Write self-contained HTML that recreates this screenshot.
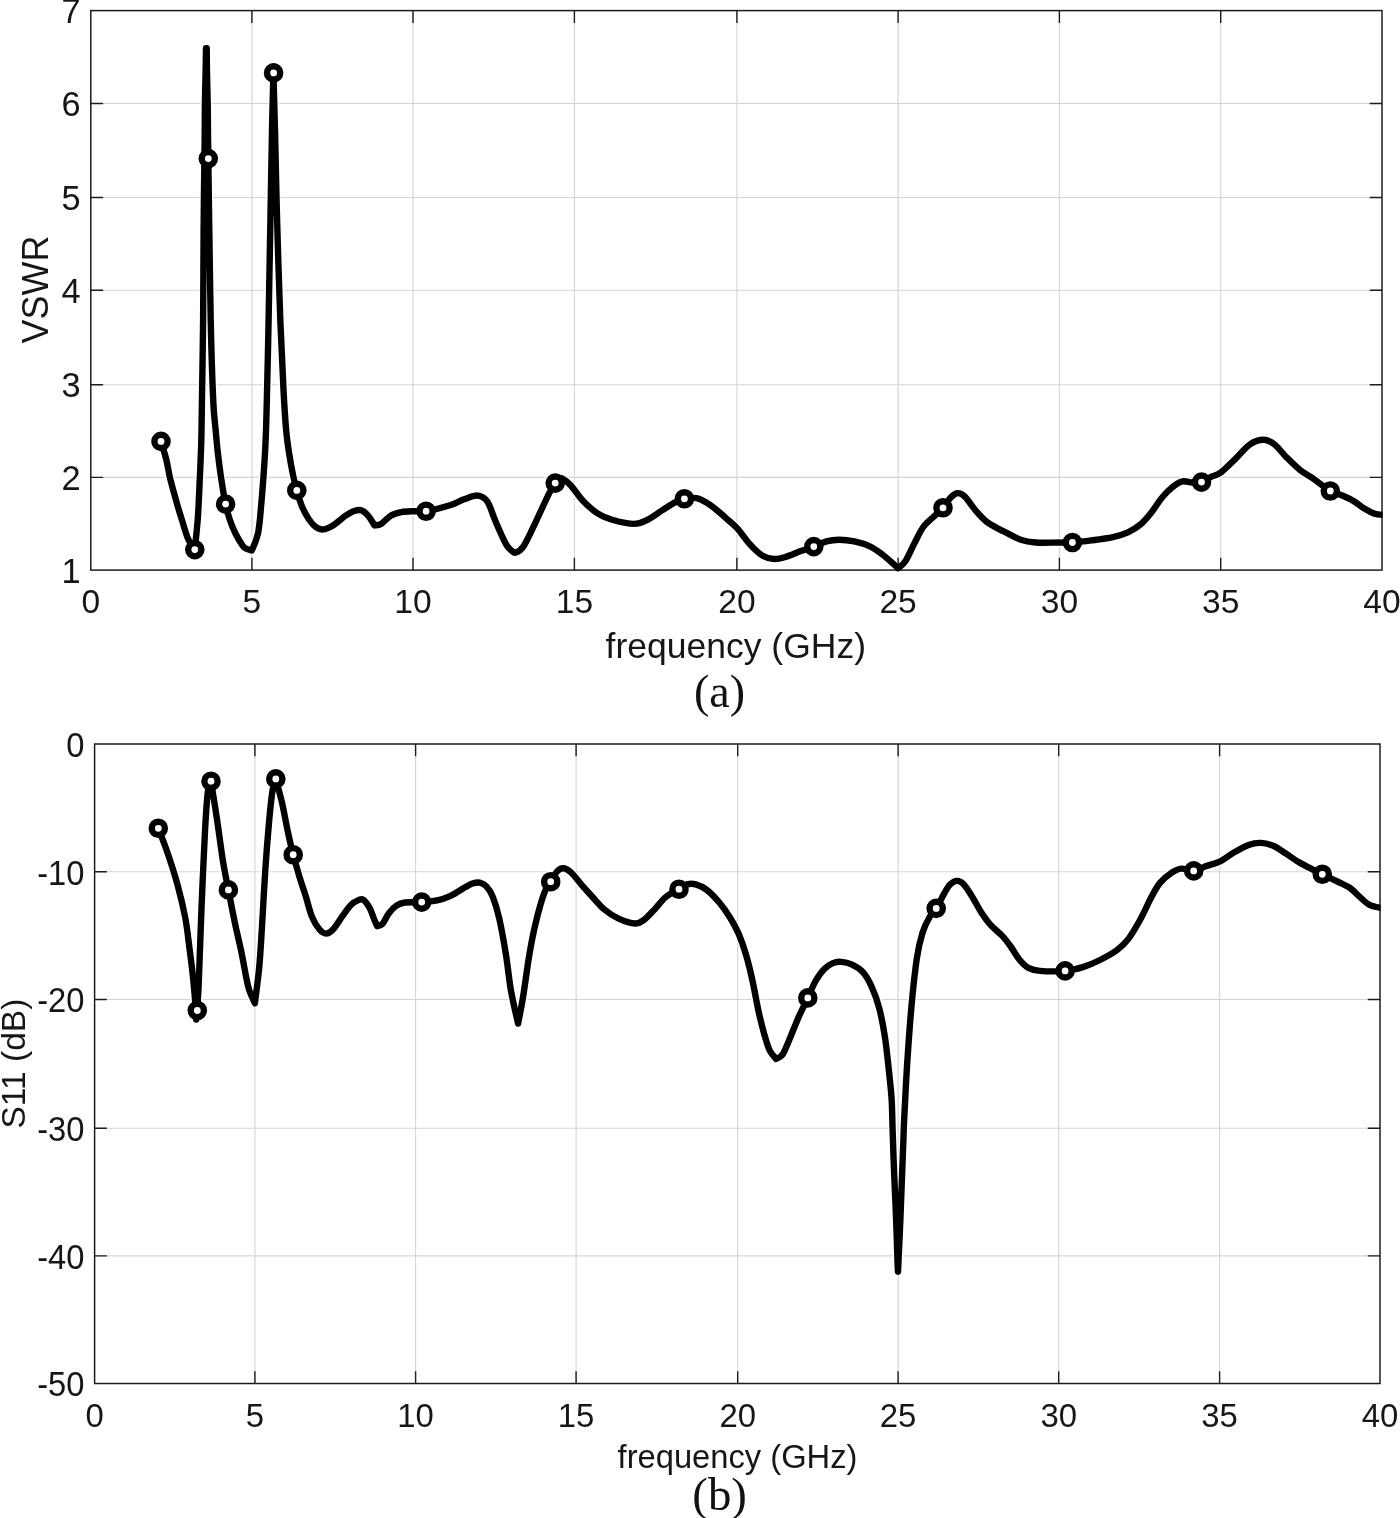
<!DOCTYPE html>
<html><head><meta charset="utf-8"><title>VSWR and S11</title>
<style>
html,body{margin:0;padding:0;background:#fff}
body{width:1400px;height:1518px;overflow:hidden}
svg{display:block}
text{font-family:"Liberation Sans",sans-serif;fill:#161616}
.cap{font-family:"Liberation Serif",serif;fill:#111}
</style></head><body>
<svg width="1400" height="1518" viewBox="0 0 1400 1518">
<rect width="1400" height="1518" fill="#fff"/>
<clipPath id="ca"><rect x="90.8" y="-1.4" width="1291.8" height="583.5"/></clipPath>
<path d="M251.9 10.6V570.1M413.0 10.6V570.1M574.4 10.6V570.1M736.9 10.6V570.1M898.1 10.6V570.1M1059.4 10.6V570.1M1220.7 10.6V570.1M90.8 477.4H1382.0M90.8 384.7H1382.0M90.8 290.2H1382.0M90.8 197.5H1382.0M90.8 103.5H1382.0" stroke="#262626" stroke-opacity="0.2" stroke-width="1.1" fill="none"/>
<defs><path id="pca" d="M161.0 441.4 C161.9 444.4 164.8 453.6 166.3 459.6 C167.8 465.6 168.3 470.8 169.9 477.4 C171.5 484.0 173.8 492.2 175.7 499.1 C177.6 506.0 179.5 512.3 181.6 518.9 C183.7 525.5 185.8 533.6 188.0 538.7 C190.2 543.8 193.7 547.8 194.8 549.6 C195.3 544.4 197.0 529.6 197.8 518.5 C198.6 507.4 199.1 494.9 199.6 483.0 C200.1 471.1 200.7 459.6 201.1 447.4 C201.5 435.2 201.5 431.2 201.8 410.0 C202.1 388.8 202.8 350.0 203.1 320.0 C203.4 290.0 203.3 260.7 203.6 230.0 C203.8 199.3 204.5 157.2 204.7 136.0 C204.9 114.8 204.8 113.7 204.9 103.0 C205.1 92.3 205.4 81.1 205.6 72.0 C205.8 62.9 205.9 52.2 206.0 48.2 L206.7 48.2 C206.8 52.2 206.8 62.9 207.0 72.0 C207.2 81.1 207.5 92.3 207.7 103.0 C207.9 113.7 207.9 126.7 208.0 136.0 C208.1 145.3 208.1 142.9 208.3 158.6 C208.5 174.3 208.9 203.1 209.3 230.0 C209.8 256.9 210.1 291.7 210.7 320.0 C211.3 348.3 212.4 381.7 213.2 400.0 C214.0 418.3 214.8 420.7 215.6 429.6 C216.4 438.5 216.9 444.8 217.9 453.3 C218.9 461.8 220.2 472.1 221.5 480.6 C222.8 489.1 224.2 497.6 225.6 504.1 C227.0 510.6 228.1 514.7 229.8 519.7 C231.5 524.7 233.5 529.6 235.7 534.0 C237.9 538.4 241.0 543.3 242.8 545.8 C244.6 548.3 244.9 548.0 246.4 548.8 C247.9 549.6 250.8 550.2 251.7 550.5 C252.3 549.1 254.2 545.2 255.3 542.2 C256.4 539.2 257.7 534.4 258.2 532.8 C258.5 530.4 259.2 526.8 260.0 518.5 C260.8 510.2 262.1 494.9 263.0 483.0 C263.9 471.1 264.7 459.6 265.3 447.4 C265.9 435.2 266.1 431.2 266.6 410.0 C267.2 388.8 268.0 351.7 268.6 320.0 C269.2 288.3 269.8 253.3 270.4 220.0 C271.0 186.7 271.7 144.5 272.2 120.0 C272.7 95.5 273.2 80.8 273.4 72.9 C273.7 82.4 274.4 105.5 275.0 130.0 C275.6 154.5 276.2 188.3 277.1 220.0 C278.0 251.7 279.2 291.3 280.3 320.0 C281.4 348.7 282.6 373.7 283.6 392.0 C284.6 410.3 285.2 419.4 286.1 429.6 C287.0 439.8 287.9 445.6 289.1 453.3 C290.3 461.0 291.9 469.7 293.2 475.9 C294.5 482.1 295.3 485.3 296.8 490.4 C298.3 495.5 300.0 501.8 302.1 506.7 C304.2 511.6 306.8 516.2 309.2 519.7 C311.6 523.2 314.0 525.8 316.3 527.4 C318.6 529.0 320.4 529.7 323.2 529.4 C326.0 529.1 329.1 527.7 332.9 525.4 C336.6 523.1 342.1 518.1 345.7 515.7 C349.3 513.3 351.6 511.9 354.3 511.0 C357.0 510.1 359.5 509.6 361.8 510.4 C364.1 511.2 366.1 513.2 368.2 515.7 C370.3 518.2 373.5 523.8 374.6 525.4 C375.7 525.1 378.4 525.5 381.1 523.9 C383.8 522.3 387.3 517.7 390.7 515.7 C394.1 513.7 397.5 512.9 401.4 512.1 C405.3 511.4 410.2 511.4 414.3 511.2 C418.4 511.0 420.2 512.2 426.1 511.2 C432.1 510.2 443.7 507.3 450.0 505.3 C456.3 503.3 459.3 500.9 464.0 499.3 C468.7 497.7 474.1 495.2 478.0 495.6 C481.9 496.0 484.7 497.7 487.5 501.8 C490.3 505.9 492.0 513.0 495.0 520.0 C498.0 527.0 502.9 538.5 505.7 543.6 C508.4 548.7 509.8 549.0 511.5 550.5 C513.2 552.0 513.9 553.4 516.0 552.6 C518.1 551.8 520.6 550.8 523.9 545.7 C527.2 540.6 531.6 530.7 535.7 522.1 C539.8 513.5 545.4 500.8 548.6 494.3 C551.9 487.8 553.3 485.8 555.2 483.1 C557.1 480.4 557.3 477.8 559.8 478.0 C562.3 478.2 566.1 480.8 570.0 484.6 C573.9 488.4 578.2 495.9 582.9 500.7 C587.5 505.5 592.9 510.4 597.9 513.6 C602.9 516.8 606.8 518.3 612.9 520.0 C619.0 521.7 628.6 523.9 634.3 523.9 C640.0 523.9 642.5 522.2 647.1 520.0 C651.7 517.8 657.5 513.3 662.1 510.4 C666.8 507.5 671.3 504.3 675.0 502.4 C678.7 500.5 680.8 499.5 684.4 498.8 C688.0 498.1 692.6 497.4 696.4 498.1 C700.2 498.8 703.8 501.0 707.1 502.9 C710.4 504.8 712.9 506.9 716.0 509.4 C719.1 511.9 722.1 514.7 725.7 517.9 C729.3 521.1 733.6 524.3 737.5 528.6 C741.4 532.9 745.2 539.1 749.3 543.6 C753.4 548.1 758.0 552.8 762.1 555.4 C766.2 558.0 770.0 558.8 773.9 559.0 C777.8 559.2 781.2 558.2 785.7 556.9 C790.2 555.6 796.0 552.8 800.7 551.1 C805.4 549.4 809.5 548.2 813.8 546.6 C818.1 545.0 822.1 542.5 826.4 541.4 C830.6 540.2 834.6 539.7 839.3 539.7 C843.9 539.7 849.3 540.3 854.3 541.4 C859.3 542.5 864.7 544.0 869.3 546.1 C873.9 548.2 877.3 550.6 882.1 554.3 C886.9 558.0 895.5 565.9 898.2 568.2 C899.5 567.0 903.0 564.8 905.7 560.7 C908.4 556.6 911.4 549.1 914.3 543.6 C917.2 538.1 919.7 532.0 922.9 527.5 C926.1 523.0 930.2 520.1 933.6 516.8 C937.0 513.5 940.1 511.0 943.0 507.8 C945.9 504.6 948.4 499.9 950.7 497.5 C953.1 495.1 954.8 493.4 957.1 493.2 C959.4 493.0 961.4 493.4 964.6 496.4 C967.8 499.4 972.6 507.1 976.4 511.4 C980.1 515.7 983.2 519.1 987.1 522.1 C991.0 525.1 996.9 527.9 1000.0 529.6 C1003.1 531.3 1002.2 530.7 1005.7 532.4 C1009.2 534.1 1015.7 538.0 1020.7 539.7 C1025.7 541.4 1029.3 542.0 1035.7 542.5 C1042.1 543.0 1053.2 542.5 1059.3 542.5 C1065.4 542.5 1067.1 542.9 1072.4 542.5 C1077.8 542.1 1084.7 541.3 1091.4 540.4 C1098.2 539.5 1106.8 538.4 1112.9 537.1 C1119.0 535.8 1123.3 534.5 1127.9 532.4 C1132.5 530.3 1136.8 527.6 1140.7 524.3 C1144.6 521.0 1147.8 517.0 1151.4 512.5 C1155.0 508.0 1158.5 501.8 1162.1 497.5 C1165.7 493.2 1169.5 489.5 1172.9 486.8 C1176.3 484.1 1179.3 482.1 1182.5 481.4 C1185.7 480.7 1188.9 482.4 1192.1 482.5 C1195.3 482.6 1198.3 483.1 1201.5 482.1 C1204.7 481.1 1208.2 478.3 1211.4 476.7 C1214.7 475.1 1217.0 475.4 1221.0 472.4 C1225.0 469.4 1230.9 463.3 1235.7 458.6 C1240.5 453.9 1245.3 447.4 1250.0 444.3 C1254.7 441.2 1259.5 439.8 1263.6 439.8 C1267.6 439.8 1270.6 441.5 1274.3 444.3 C1278.0 447.1 1281.4 452.1 1285.7 456.4 C1290.0 460.7 1295.2 466.2 1300.0 470.0 C1304.8 473.8 1309.2 475.8 1314.3 479.3 C1319.3 482.8 1325.5 488.3 1330.3 491.0 C1335.1 493.7 1338.9 494.0 1342.9 495.7 C1346.9 497.4 1350.7 499.2 1354.3 501.4 C1357.9 503.5 1361.0 506.6 1364.3 508.6 C1367.6 510.6 1371.0 512.5 1374.3 513.6 C1377.6 514.7 1382.4 514.8 1384.0 515.0"/></defs>
<g clip-path="url(#ca)"><use href="#pca" fill="none" stroke="#fff" stroke-width="8.8" stroke-linejoin="round" stroke-linecap="round"/>
<circle cx="161.0" cy="441.4" r="11.0" fill="#fff"/>
<circle cx="194.8" cy="549.6" r="11.0" fill="#fff"/>
<circle cx="208.3" cy="158.6" r="11.0" fill="#fff"/>
<circle cx="225.6" cy="504.1" r="11.0" fill="#fff"/>
<circle cx="273.6" cy="72.9" r="11.0" fill="#fff"/>
<circle cx="296.8" cy="490.4" r="11.0" fill="#fff"/>
<circle cx="426.1" cy="511.2" r="11.0" fill="#fff"/>
<circle cx="555.2" cy="483.1" r="11.0" fill="#fff"/>
<circle cx="684.4" cy="498.8" r="11.0" fill="#fff"/>
<circle cx="813.8" cy="546.6" r="11.0" fill="#fff"/>
<circle cx="943.0" cy="507.8" r="11.0" fill="#fff"/>
<circle cx="1072.4" cy="542.5" r="11.0" fill="#fff"/>
<circle cx="1201.5" cy="482.1" r="11.0" fill="#fff"/>
<circle cx="1330.3" cy="491.0" r="11.0" fill="#fff"/>
</g>
<path d="M251.9 570.1v-12.3M251.9 10.6v12.3M413.0 570.1v-12.3M413.0 10.6v12.3M574.4 570.1v-12.3M574.4 10.6v12.3M736.9 570.1v-12.3M736.9 10.6v12.3M898.1 570.1v-12.3M898.1 10.6v12.3M1059.4 570.1v-12.3M1059.4 10.6v12.3M1220.7 570.1v-12.3M1220.7 10.6v12.3M90.8 477.4h12.3M1382.0 477.4h-12.3M90.8 384.7h12.3M1382.0 384.7h-12.3M90.8 290.2h12.3M1382.0 290.2h-12.3M90.8 197.5h12.3M1382.0 197.5h-12.3M90.8 103.5h12.3M1382.0 103.5h-12.3" stroke="#1c1c1c" stroke-width="1.4" fill="none"/>
<rect x="90.8" y="10.6" width="1291.2" height="559.5" fill="none" stroke="#1c1c1c" stroke-width="1.5"/>
<g clip-path="url(#ca)"><use href="#pca" fill="none" stroke="#000" stroke-width="6.4" stroke-linejoin="round" stroke-linecap="round"/>
<circle cx="161.0" cy="441.4" r="6.6" fill="#fff" stroke="#000" stroke-width="6.4"/>
<circle cx="194.8" cy="549.6" r="6.6" fill="#fff" stroke="#000" stroke-width="6.4"/>
<circle cx="208.3" cy="158.6" r="6.6" fill="#fff" stroke="#000" stroke-width="6.4"/>
<circle cx="225.6" cy="504.1" r="6.6" fill="#fff" stroke="#000" stroke-width="6.4"/>
<circle cx="273.6" cy="72.9" r="6.6" fill="#fff" stroke="#000" stroke-width="6.4"/>
<circle cx="296.8" cy="490.4" r="6.6" fill="#fff" stroke="#000" stroke-width="6.4"/>
<circle cx="426.1" cy="511.2" r="6.6" fill="#fff" stroke="#000" stroke-width="6.4"/>
<circle cx="555.2" cy="483.1" r="6.6" fill="#fff" stroke="#000" stroke-width="6.4"/>
<circle cx="684.4" cy="498.8" r="6.6" fill="#fff" stroke="#000" stroke-width="6.4"/>
<circle cx="813.8" cy="546.6" r="6.6" fill="#fff" stroke="#000" stroke-width="6.4"/>
<circle cx="943.0" cy="507.8" r="6.6" fill="#fff" stroke="#000" stroke-width="6.4"/>
<circle cx="1072.4" cy="542.5" r="6.6" fill="#fff" stroke="#000" stroke-width="6.4"/>
<circle cx="1201.5" cy="482.1" r="6.6" fill="#fff" stroke="#000" stroke-width="6.4"/>
<circle cx="1330.3" cy="491.0" r="6.6" fill="#fff" stroke="#000" stroke-width="6.4"/>
</g>
<text transform="translate(90.80 613.45) scale(0.990 1)" text-anchor="middle" font-size="33.9">0</text>
<text transform="translate(251.90 613.45) scale(0.990 1)" text-anchor="middle" font-size="33.9">5</text>
<text transform="translate(413.00 613.45) scale(0.990 1)" text-anchor="middle" font-size="33.9">10</text>
<text transform="translate(574.40 613.45) scale(0.990 1)" text-anchor="middle" font-size="33.9">15</text>
<text transform="translate(736.90 613.45) scale(0.990 1)" text-anchor="middle" font-size="33.9">20</text>
<text transform="translate(898.10 613.45) scale(0.990 1)" text-anchor="middle" font-size="33.9">25</text>
<text transform="translate(1059.40 613.45) scale(0.990 1)" text-anchor="middle" font-size="33.9">30</text>
<text transform="translate(1220.70 613.45) scale(0.990 1)" text-anchor="middle" font-size="33.9">35</text>
<text transform="translate(1382.00 613.45) scale(0.990 1)" text-anchor="middle" font-size="33.9">40</text>
<text transform="translate(80.60 582.60) scale(0.955 1)" text-anchor="end" font-size="36.0">1</text>
<text transform="translate(80.60 489.90) scale(0.955 1)" text-anchor="end" font-size="36.0">2</text>
<text transform="translate(80.60 397.20) scale(0.955 1)" text-anchor="end" font-size="36.0">3</text>
<text transform="translate(80.60 302.70) scale(0.955 1)" text-anchor="end" font-size="36.0">4</text>
<text transform="translate(80.60 210.00) scale(0.955 1)" text-anchor="end" font-size="36.0">5</text>
<text transform="translate(80.60 115.95) scale(0.955 1)" text-anchor="end" font-size="36.0">6</text>
<text transform="translate(80.60 23.10) scale(0.955 1)" text-anchor="end" font-size="36.0">7</text>
<text x="605.6" y="658" font-size="34.6" textLength="260.4" lengthAdjust="spacingAndGlyphs">frequency (GHz)</text>
<text transform="translate(48.4 289.4) rotate(-90)" text-anchor="middle" font-size="36">VSWR</text>
<text class="cap" x="719.5" y="706.7" text-anchor="middle" font-size="46">(a)</text>
<clipPath id="cb"><rect x="94.6" y="732.0" width="1286.0" height="663.5"/></clipPath>
<path d="M254.9 744.0V1383.5M415.6 744.0V1383.5M576.1 744.0V1383.5M737.7 744.0V1383.5M898.1 744.0V1383.5M1058.7 744.0V1383.5M1219.6 744.0V1383.5M94.6 871.7H1380.0M94.6 999.5H1380.0M94.6 1128.2H1380.0M94.6 1255.9H1380.0" stroke="#262626" stroke-opacity="0.2" stroke-width="1.1" fill="none"/>
<defs><path id="pcb" d="M158.3 828.3 C159.8 832.4 164.3 843.4 167.5 852.8 C170.7 862.1 174.4 873.5 177.4 884.4 C180.4 895.3 183.3 907.5 185.3 918.0 C187.3 928.5 188.1 937.7 189.4 947.6 C190.7 957.5 192.0 967.4 193.0 977.3 C194.0 987.2 195.1 999.9 195.6 1006.9 C196.1 1013.9 196.1 1017.4 196.2 1019.5 C196.6 1014.1 197.7 1005.8 198.6 987.2 C199.5 968.6 200.4 934.5 201.5 908.1 C202.6 881.8 204.0 848.9 205.1 829.1 C206.2 809.3 207.1 797.5 208.1 789.5 C209.1 781.5 210.5 782.6 211.0 781.2 C212.0 787.5 215.0 806.0 217.0 819.2 C219.0 832.5 221.0 848.9 222.9 860.7 C224.8 872.5 226.4 879.7 228.4 889.9 C230.4 900.1 232.5 911.6 234.7 921.9 C236.8 932.2 239.4 942.4 241.3 951.6 C243.2 960.8 244.9 970.9 246.2 977.3 C247.5 983.7 247.8 985.8 249.2 990.1 C250.6 994.4 253.9 1001.1 254.9 1003.3 C255.6 997.3 258.0 980.0 259.2 967.4 C260.4 954.8 260.9 944.4 261.9 927.9 C262.9 911.4 264.2 886.7 265.4 868.6 C266.6 850.5 268.1 832.4 269.3 819.2 C270.5 806.0 271.6 796.2 272.7 789.5 C273.8 782.8 275.3 780.7 275.8 778.9 C276.9 783.0 280.1 794.4 282.2 803.4 C284.2 812.4 286.3 824.5 288.1 833.0 C289.9 841.5 291.2 847.1 293.2 854.7 C295.2 862.3 298.0 871.8 300.0 878.5 C302.0 885.2 303.4 888.7 305.4 895.0 C307.4 901.3 309.5 910.7 311.8 916.4 C314.1 922.1 316.9 926.4 319.3 929.3 C321.7 932.2 323.8 933.6 326.1 933.6 C328.4 933.6 330.4 932.3 333.2 929.3 C336.0 926.3 339.9 919.5 342.9 915.4 C345.9 911.3 348.9 907.1 351.4 904.6 C353.9 902.1 355.9 901.2 357.9 900.4 C359.9 899.6 361.2 898.5 363.2 899.7 C365.1 901.0 367.8 904.8 369.6 907.9 C371.4 911.0 372.6 915.6 373.9 918.6 C375.1 921.6 376.6 924.9 377.1 926.1 C378.0 925.7 380.5 926.0 382.5 923.9 C384.5 921.8 386.6 916.2 388.9 913.2 C391.2 910.2 393.7 907.5 396.4 905.7 C399.1 903.9 400.8 903.1 405.0 902.5 C409.2 901.9 416.3 902.5 421.7 902.1 C427.1 901.8 432.4 901.4 437.1 900.4 C441.8 899.4 445.7 898.1 450.0 896.1 C454.3 894.1 459.1 890.7 462.9 888.6 C466.6 886.5 469.7 884.6 472.5 883.6 C475.3 882.6 477.3 882.1 479.6 882.6 C481.9 883.1 484.2 884.0 486.4 886.4 C488.6 888.8 490.8 891.7 492.9 897.1 C495.0 902.5 497.2 909.3 499.3 918.6 C501.4 927.9 503.7 940.8 505.7 952.9 C507.7 965.0 509.0 979.6 511.1 991.4 C513.2 1003.2 516.9 1018.2 518.1 1023.6 C518.9 1019.3 521.0 1009.3 522.9 997.9 C524.8 986.5 527.2 967.5 529.3 955.0 C531.4 942.5 533.2 933.2 535.7 922.9 C538.2 912.5 541.8 899.8 544.3 892.9 C546.8 886.0 548.6 885.3 550.7 881.7 C552.8 878.1 555.0 873.6 557.1 871.4 C559.2 869.1 561.3 868.0 563.6 868.2 C565.9 868.4 567.9 869.5 571.1 872.5 C574.3 875.5 579.6 882.6 582.9 886.4 C586.2 890.1 587.2 891.2 590.7 895.0 C594.2 898.8 599.0 905.0 603.6 908.9 C608.2 912.8 613.3 916.2 618.6 918.6 C623.9 921.0 631.0 923.3 635.3 923.5 C639.6 923.7 641.0 922.0 644.3 919.6 C647.6 917.2 651.4 912.6 655.0 908.9 C658.6 905.1 661.7 900.4 665.7 897.1 C669.7 893.8 675.4 891.3 679.0 889.2 C682.6 887.1 684.3 885.1 687.1 884.3 C689.9 883.5 692.5 883.4 695.7 884.3 C698.9 885.2 702.5 886.6 706.4 889.6 C710.3 892.6 715.4 897.9 719.3 902.5 C723.2 907.1 726.8 912.3 730.0 917.5 C733.2 922.7 735.9 927.4 738.6 933.6 C741.3 939.9 743.8 947.1 746.1 955.0 C748.4 962.9 750.4 971.1 752.5 980.7 C754.6 990.4 756.9 1004.0 758.9 1012.9 C760.9 1021.8 762.5 1028.0 764.3 1034.3 C766.1 1040.5 767.6 1046.3 769.6 1050.4 C771.6 1054.5 775.0 1057.5 776.1 1058.9 C777.2 1058.2 780.4 1057.6 782.5 1054.6 C784.6 1051.6 786.2 1047.0 788.9 1040.7 C791.6 1034.5 795.5 1024.2 798.6 1017.1 C801.8 1010.0 804.9 1004.0 807.8 997.9 C810.6 991.8 813.0 985.5 815.7 980.7 C818.5 975.9 821.4 971.8 824.3 968.9 C827.2 966.0 830.0 964.3 832.9 963.1 C835.8 961.9 838.2 961.6 841.4 961.9 C844.6 962.1 848.5 962.9 852.1 964.6 C855.7 966.3 859.7 968.5 862.9 972.1 C866.1 975.7 868.7 980.2 871.4 986.1 C874.1 992.0 876.9 999.3 879.1 1007.8 C881.4 1016.2 883.2 1025.7 884.9 1036.8 C886.6 1047.9 888.2 1063.9 889.3 1074.5 C890.4 1085.1 891.1 1090.4 891.7 1100.6 C892.3 1110.8 892.3 1122.2 892.8 1135.4 C893.2 1148.6 893.8 1165.6 894.4 1179.5 C895.0 1193.4 895.6 1205.8 896.1 1219.0 C896.6 1232.2 897.1 1249.8 897.4 1258.6 C897.7 1267.4 897.9 1269.5 898.0 1271.7 C898.1 1269.5 898.2 1267.4 898.6 1258.6 C899.0 1249.8 899.9 1232.2 900.4 1219.0 C900.9 1205.8 901.4 1192.7 901.9 1179.5 C902.4 1166.3 903.0 1149.8 903.4 1140.0 C903.8 1130.2 903.5 1133.8 904.1 1120.9 C904.7 1108.1 906.0 1082.2 907.2 1062.9 C908.5 1043.6 910.0 1022.3 911.6 1004.9 C913.2 987.5 915.0 970.7 916.8 958.6 C918.6 946.5 920.4 939.5 922.6 932.5 C924.8 925.5 927.6 920.5 929.9 916.5 C932.2 912.5 933.8 912.3 936.2 908.4 C938.6 904.5 942.0 897.3 944.3 893.3 C946.6 889.3 948.0 886.7 950.1 884.6 C952.2 882.5 954.6 881.0 956.8 880.9 C959.0 880.8 960.7 881.2 963.2 883.8 C965.7 886.3 968.8 891.2 971.9 896.2 C975.0 901.2 978.9 908.8 982.0 913.6 C985.1 918.4 987.3 921.5 990.7 925.2 C994.1 928.9 998.9 932.3 1002.3 935.9 C1005.7 939.5 1008.1 943.0 1011.0 947.0 C1013.9 951.0 1016.8 956.5 1019.7 960.0 C1022.6 963.5 1025.0 966.0 1028.4 967.8 C1031.8 969.6 1033.9 970.4 1040.0 970.9 C1046.1 971.4 1057.9 971.5 1065.1 970.9 C1072.2 970.3 1077.1 968.9 1082.9 967.1 C1088.7 965.3 1094.3 962.9 1100.0 960.0 C1105.7 957.1 1112.3 953.6 1117.1 950.0 C1121.9 946.4 1124.8 943.6 1128.6 938.6 C1132.4 933.6 1136.2 926.9 1140.0 920.0 C1143.8 913.1 1148.1 903.3 1151.4 897.1 C1154.7 890.9 1156.7 886.9 1160.0 882.9 C1163.3 878.9 1167.8 875.3 1171.4 872.9 C1175.0 870.5 1177.7 868.9 1181.4 868.6 C1185.1 868.3 1189.7 871.3 1193.7 870.9 C1197.8 870.5 1201.3 867.9 1205.7 866.3 C1210.1 864.7 1215.2 863.7 1220.0 861.4 C1224.8 859.1 1229.5 855.0 1234.3 852.3 C1239.1 849.5 1244.1 846.5 1248.6 844.9 C1253.1 843.3 1257.1 842.7 1261.4 842.9 C1265.7 843.1 1270.2 844.5 1274.3 846.3 C1278.3 848.0 1281.4 850.6 1285.7 853.4 C1290.0 856.2 1293.9 859.4 1300.0 862.9 C1306.1 866.4 1316.1 871.2 1322.3 874.3 C1328.5 877.4 1332.5 879.1 1337.1 881.4 C1341.7 883.7 1346.2 885.4 1350.0 888.0 C1353.8 890.6 1356.7 894.2 1360.0 897.1 C1363.3 900.0 1366.3 903.3 1370.0 905.1 C1373.7 906.9 1380.0 907.5 1382.0 908.0"/></defs>
<g clip-path="url(#cb)"><use href="#pcb" fill="none" stroke="#fff" stroke-width="8.8" stroke-linejoin="round" stroke-linecap="round"/>
<circle cx="158.3" cy="828.3" r="11.0" fill="#fff"/>
<circle cx="197.3" cy="1010.5" r="11.0" fill="#fff"/>
<circle cx="211.0" cy="781.2" r="11.0" fill="#fff"/>
<circle cx="228.4" cy="889.9" r="11.0" fill="#fff"/>
<circle cx="275.8" cy="778.9" r="11.0" fill="#fff"/>
<circle cx="293.2" cy="854.7" r="11.0" fill="#fff"/>
<circle cx="421.7" cy="902.1" r="11.0" fill="#fff"/>
<circle cx="550.7" cy="881.7" r="11.0" fill="#fff"/>
<circle cx="679.0" cy="889.2" r="11.0" fill="#fff"/>
<circle cx="807.8" cy="997.9" r="11.0" fill="#fff"/>
<circle cx="936.2" cy="908.4" r="11.0" fill="#fff"/>
<circle cx="1065.1" cy="970.9" r="11.0" fill="#fff"/>
<circle cx="1193.7" cy="870.9" r="11.0" fill="#fff"/>
<circle cx="1322.3" cy="874.3" r="11.0" fill="#fff"/>
</g>
<path d="M254.9 1383.5v-12.3M254.9 744.0v12.3M415.6 1383.5v-12.3M415.6 744.0v12.3M576.1 1383.5v-12.3M576.1 744.0v12.3M737.7 1383.5v-12.3M737.7 744.0v12.3M898.1 1383.5v-12.3M898.1 744.0v12.3M1058.7 1383.5v-12.3M1058.7 744.0v12.3M1219.6 1383.5v-12.3M1219.6 744.0v12.3M94.6 871.7h12.3M1380.0 871.7h-12.3M94.6 999.5h12.3M1380.0 999.5h-12.3M94.6 1128.2h12.3M1380.0 1128.2h-12.3M94.6 1255.9h12.3M1380.0 1255.9h-12.3" stroke="#1c1c1c" stroke-width="1.4" fill="none"/>
<rect x="94.6" y="744.0" width="1285.4" height="639.5" fill="none" stroke="#1c1c1c" stroke-width="1.5"/>
<g clip-path="url(#cb)"><use href="#pcb" fill="none" stroke="#000" stroke-width="6.4" stroke-linejoin="round" stroke-linecap="round"/>
<circle cx="158.3" cy="828.3" r="6.6" fill="#fff" stroke="#000" stroke-width="6.4"/>
<circle cx="197.3" cy="1010.5" r="6.6" fill="#fff" stroke="#000" stroke-width="6.4"/>
<circle cx="211.0" cy="781.2" r="6.6" fill="#fff" stroke="#000" stroke-width="6.4"/>
<circle cx="228.4" cy="889.9" r="6.6" fill="#fff" stroke="#000" stroke-width="6.4"/>
<circle cx="275.8" cy="778.9" r="6.6" fill="#fff" stroke="#000" stroke-width="6.4"/>
<circle cx="293.2" cy="854.7" r="6.6" fill="#fff" stroke="#000" stroke-width="6.4"/>
<circle cx="421.7" cy="902.1" r="6.6" fill="#fff" stroke="#000" stroke-width="6.4"/>
<circle cx="550.7" cy="881.7" r="6.6" fill="#fff" stroke="#000" stroke-width="6.4"/>
<circle cx="679.0" cy="889.2" r="6.6" fill="#fff" stroke="#000" stroke-width="6.4"/>
<circle cx="807.8" cy="997.9" r="6.6" fill="#fff" stroke="#000" stroke-width="6.4"/>
<circle cx="936.2" cy="908.4" r="6.6" fill="#fff" stroke="#000" stroke-width="6.4"/>
<circle cx="1065.1" cy="970.9" r="6.6" fill="#fff" stroke="#000" stroke-width="6.4"/>
<circle cx="1193.7" cy="870.9" r="6.6" fill="#fff" stroke="#000" stroke-width="6.4"/>
<circle cx="1322.3" cy="874.3" r="6.6" fill="#fff" stroke="#000" stroke-width="6.4"/>
</g>
<text transform="translate(94.60 1426.65) scale(0.965 1)" text-anchor="middle" font-size="34.1">0</text>
<text transform="translate(254.90 1426.65) scale(0.965 1)" text-anchor="middle" font-size="34.1">5</text>
<text transform="translate(415.60 1426.65) scale(0.965 1)" text-anchor="middle" font-size="34.1">10</text>
<text transform="translate(576.10 1426.65) scale(0.965 1)" text-anchor="middle" font-size="34.1">15</text>
<text transform="translate(737.70 1426.65) scale(0.965 1)" text-anchor="middle" font-size="34.1">20</text>
<text transform="translate(898.10 1426.65) scale(0.965 1)" text-anchor="middle" font-size="34.1">25</text>
<text transform="translate(1058.70 1426.65) scale(0.965 1)" text-anchor="middle" font-size="34.1">30</text>
<text transform="translate(1219.60 1426.65) scale(0.965 1)" text-anchor="middle" font-size="34.1">35</text>
<text transform="translate(1380.00 1426.65) scale(0.965 1)" text-anchor="middle" font-size="34.1">40</text>
<text transform="translate(84.40 756.85) scale(0.921 1)" text-anchor="end" font-size="35.5">0</text>
<text transform="translate(84.40 884.50) scale(0.921 1)" text-anchor="end" font-size="35.5">-10</text>
<text transform="translate(84.40 1012.25) scale(0.921 1)" text-anchor="end" font-size="35.5">-20</text>
<text transform="translate(84.40 1140.95) scale(0.921 1)" text-anchor="end" font-size="35.5">-30</text>
<text transform="translate(84.40 1268.70) scale(0.921 1)" text-anchor="end" font-size="35.5">-40</text>
<text transform="translate(84.40 1396.35) scale(0.921 1)" text-anchor="end" font-size="35.5">-50</text>
<text x="737.5" y="1468" text-anchor="middle" font-size="32.7">frequency (GHz)</text>
<text transform="translate(24.5 1063.6) rotate(-90)" text-anchor="middle" font-size="33.6">S11 (dB)</text>
<text class="cap" x="719.6" y="1509.8" text-anchor="middle" font-size="46.8">(b)</text>
</svg></body></html>
